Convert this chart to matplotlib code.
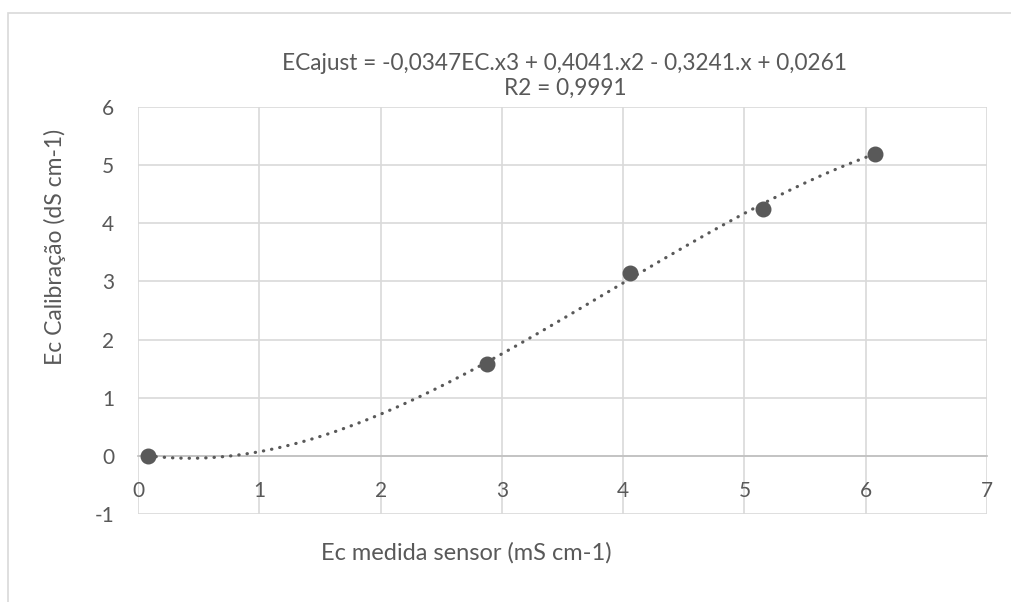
import numpy as np
import matplotlib
matplotlib.use("Agg")
from matplotlib import pyplot as plt
from matplotlib.patches import Rectangle

# Sensor readings vs calibration values
ec_sensor = [0.08, 2.88, 4.06, 5.15, 6.08]
ec_calib = [0.0, 1.58, 3.14, 4.24, 5.20]

# Polynomial trendline coefficients (x^3, x^2, x, 1) as shown in the title
trend_coefs = [-0.0347, 0.4041, -0.3241, 0.0261]

x_ticks = [0, 1, 2, 3, 4, 5, 6, 7]
y_ticks = [-1, 0, 1, 2, 3, 4, 5, 6]

TEXT = "#595959"
GRID = "#d9d9d9"

plt.rcParams["font.family"] = ["Lato", "DejaVu Sans"]
plt.rcParams["axes.unicode_minus"] = False

fig = plt.figure(figsize=(10.12, 6.02), dpi=100)
ax = fig.add_axes([138 / 1012, 1 - 514 / 602, (987 - 138) / 1012, (514 - 107) / 602])

# outer chart border
fig.patches.append(Rectangle((8 / 1012, -0.1), 1.2, 1 - 13 / 602 + 0.1,
                             transform=fig.transFigure, fill=False,
                             edgecolor=GRID, linewidth=1.2))

# trendline drawn with round dots
xs = np.linspace(ec_sensor[0], ec_sensor[-1], 300)
ax.plot(xs, np.polyval(trend_coefs, xs), linestyle=(0, (0.1, 2.5)),
        dash_capstyle="round", color=TEXT, linewidth=2.3, zorder=3)
ax.scatter(ec_sensor, ec_calib, s=110, color=TEXT, zorder=4)

ax.set_xlim(0, 7)
ax.set_ylim(-1, 6)
ax.set_xticks(x_ticks)
ax.set_yticks(y_ticks)
ax.grid(True, color=GRID, linewidth=1.2)
ax.set_axisbelow(True)

for side in ["top", "right", "left"]:
    ax.spines[side].set_visible(False)
ax.spines["bottom"].set_position(("data", 0))
ax.spines["bottom"].set_color("#bfbfbf")
ax.spines["bottom"].set_linewidth(1.2)

ax.tick_params(axis="both", length=0, labelsize=15, labelcolor=TEXT)
ax.tick_params(axis="x", pad=18)
ax.tick_params(axis="y", pad=17)

fig.text(565 / 1012, 1 - 63 / 602, "ECajust = -0,0347EC.x3 + 0,4041.x2 - 0,3241.x + 0,0261",
         ha="center", va="center", fontsize=16.3, color=TEXT)
fig.text(565 / 1012, 1 - 88 / 602, "R2 = 0,9991",
         ha="center", va="center", fontsize=16.3, color=TEXT)
fig.text(466 / 1012, 1 - 553 / 602, "Ec medida sensor (mS cm-1)",
         ha="center", va="center", fontsize=17, color=TEXT)
fig.text(55 / 1012, 1 - 247 / 602, "Ec Calibração (dS cm-1)",
         ha="center", va="center", rotation=90, fontsize=16.5, color=TEXT)

fig.savefig("out.png", dpi=100)
